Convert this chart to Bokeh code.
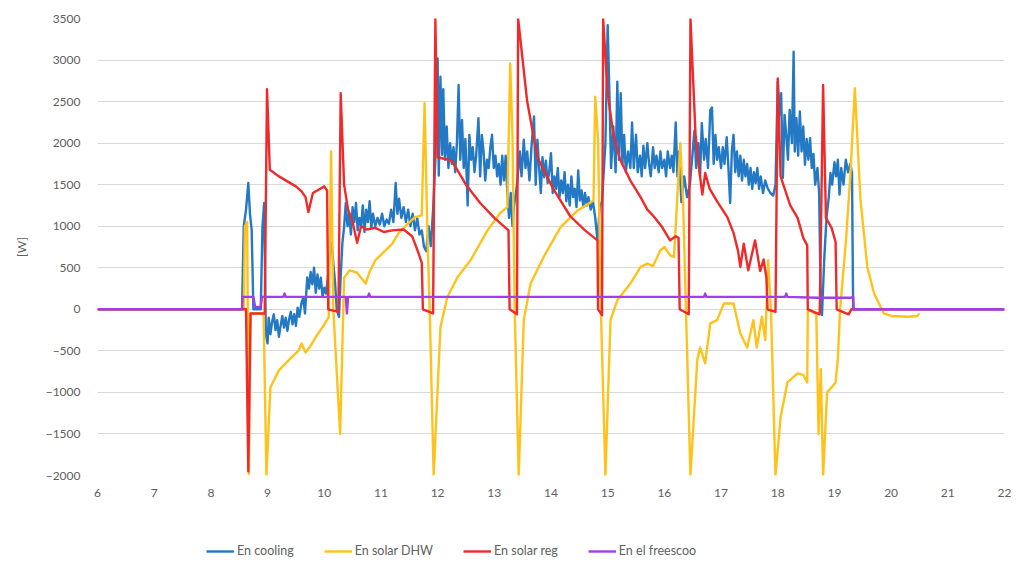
from bokeh.plotting import figure
from bokeh.models import FixedTicker, Legend, LegendItem, ColumnDataSource
from bokeh.layouts import column
from bokeh.embed import file_html
from bokeh.resources import INLINE

# ---- data: (hour, W) ----
en_cooling = [
    (6, 0), (8.55, 0), (8.58, 1000), (8.62, 1200), (8.66, 1520), (8.69, 1150), (8.72, 950), (8.75, 0),
    (8.88, 0), (8.91, 1000), (8.94, 1280), (8.97, -300), (9.0, -410), (9.02, -100), (9.05, -300),
    (9.08, -150), (9.11, -60), (9.14, -250), (9.17, -130), (9.2, -330), (9.23, -200), (9.26, -80),
    (9.29, -220), (9.32, -100), (9.35, -260), (9.38, -120), (9.41, -30), (9.44, -180), (9.47, -60),
    (9.5, -200), (9.53, 20), (9.56, -90), (9.6, 80), (9.63, 145), (9.66, -50), (9.7, 385), (9.73, 250),
    (9.76, 450), (9.79, 300), (9.82, 500), (9.85, 200), (9.88, 420), (9.91, 250), (9.94, 380),
    (9.97, 150), (10.0, 260), (10.03, 190), (10.06, 350), (10.1, 700), (10.13, 800), (10.16, 550),
    (10.19, 330), (10.22, 0), (10.26, -90), (10.29, 400), (10.32, 800), (10.35, 990), (10.38, 1280),
    (10.41, 1000), (10.44, 1150), (10.47, 900), (10.5, 1230), (10.53, 1050), (10.56, 1280),
    (10.59, 950), (10.62, 1100), (10.65, 1000), (10.68, 1250), (10.71, 930), (10.74, 1200),
    (10.77, 1050), (10.8, 1300), (10.83, 980), (10.86, 1150), (10.9, 1000), (10.94, 1100),
    (10.98, 1020), (11.02, 1150), (11.06, 1000), (11.1, 1080), (11.14, 1030), (11.18, 1200),
    (11.22, 1050), (11.26, 1520), (11.29, 1150), (11.32, 1330), (11.36, 1100), (11.4, 1230),
    (11.44, 1050), (11.48, 1200), (11.52, 1000), (11.56, 1150), (11.6, 950), (11.64, 1100),
    (11.68, 900), (11.72, 950), (11.76, 750), (11.8, 700), (11.84, 1000), (11.88, 760),
    (11.92, 1200), (11.96, 1800), (12.0, 3020), (12.02, 1610), (12.05, 2800), (12.08, 1860),
    (12.1, 2650), (12.13, 1800), (12.16, 2200), (12.19, 1700), (12.22, 2000), (12.25, 1750),
    (12.28, 1950), (12.31, 1650), (12.34, 2000), (12.37, 2700), (12.4, 1800), (12.43, 2280),
    (12.46, 1700), (12.49, 2050), (12.53, 1250), (12.56, 2100), (12.59, 1800), (12.62, 1950),
    (12.65, 1650), (12.68, 1850), (12.72, 2300), (12.75, 1600), (12.78, 2100), (12.81, 1900),
    (12.84, 1550), (12.87, 1800), (12.9, 1700), (12.93, 1950), (12.96, 2100), (12.99, 1700),
    (13.02, 1850), (13.05, 1600), (13.08, 1750), (13.11, 1500), (13.14, 1850), (13.17, 1550),
    (13.2, 1850), (13.23, 1400), (13.26, 1100), (13.29, 1400), (13.32, 1000), (13.35, 1250),
    (13.4, 1500), (13.45, 1900), (13.48, 1600), (13.52, 2040), (13.55, 1700), (13.58, 1900),
    (13.62, 1550), (13.66, 2000), (13.7, 2320), (13.73, 1500), (13.76, 2040), (13.79, 1710),
    (13.82, 1400), (13.85, 1830), (13.88, 1590), (13.91, 1790), (13.94, 1520), (13.97, 1670),
    (14.0, 1880), (14.03, 1400), (14.06, 1600), (14.09, 1450), (14.12, 1700), (14.15, 1350),
    (14.18, 1550), (14.21, 1400), (14.24, 1650), (14.27, 1300), (14.3, 1500), (14.33, 1250),
    (14.36, 1600), (14.39, 1350), (14.42, 1450), (14.45, 1230), (14.48, 1670), (14.51, 1310),
    (14.54, 1430), (14.57, 1230), (14.6, 1400), (14.63, 1250), (14.66, 1350), (14.7, 1200),
    (14.74, 1300), (14.78, 1100), (14.82, 830), (14.86, 1230), (14.9, 1300), (14.96, 2000),
    (15.0, 3420), (15.03, 2600), (15.06, 1700), (15.1, 2200), (15.14, 1650), (15.17, 2740),
    (15.2, 1800), (15.23, 2600), (15.26, 1750), (15.29, 2100), (15.32, 1650), (15.36, 1900),
    (15.4, 1700), (15.43, 2250), (15.46, 1700), (15.5, 2100), (15.53, 1650), (15.57, 1850),
    (15.6, 1600), (15.63, 1970), (15.66, 1700), (15.7, 2000), (15.73, 1750), (15.76, 1600),
    (15.8, 1950), (15.83, 1700), (15.86, 1850), (15.9, 1650), (15.93, 1900), (15.96, 1700),
    (16.0, 1800), (16.03, 1600), (16.06, 1900), (16.1, 1700), (16.13, 1850), (16.16, 1650),
    (16.2, 2250), (16.23, 1600), (16.26, 1900), (16.3, 1290), (16.35, 1600), (16.4, 1350),
    (16.45, 1500), (16.5, 1900), (16.53, 2150), (16.56, 1700), (16.6, 2000), (16.63, 1600),
    (16.66, 2240), (16.7, 1800), (16.73, 2050), (16.77, 1700), (16.81, 2400), (16.84, 2430),
    (16.87, 1750), (16.9, 2100), (16.93, 1800), (16.96, 1950), (17.0, 1700), (17.03, 1950),
    (17.06, 1750), (17.1, 2070), (17.13, 1700), (17.16, 1280), (17.19, 1900), (17.22, 2100),
    (17.25, 1650), (17.28, 1900), (17.31, 1600), (17.34, 1850), (17.37, 1550), (17.4, 1800),
    (17.43, 1600), (17.46, 1750), (17.49, 1500), (17.52, 1700), (17.55, 1450), (17.58, 1650),
    (17.61, 1520), (17.64, 1700), (17.67, 1450), (17.7, 1600), (17.74, 1400), (17.78, 1550),
    (17.82, 1460), (17.87, 1400), (17.92, 1370), (17.96, 1500), (18.0, 2740), (18.03, 2340),
    (18.06, 2600), (18.09, 1580), (18.12, 2340), (18.15, 2100), (18.18, 1800), (18.21, 2400),
    (18.25, 2000), (18.28, 3100), (18.3, 1900), (18.33, 2300), (18.36, 1850), (18.39, 2380),
    (18.42, 1900), (18.45, 2200), (18.48, 1740), (18.51, 2050), (18.54, 1800), (18.57, 2060),
    (18.6, 1700), (18.63, 1870), (18.66, 1500), (18.7, 1700), (18.73, 1400), (18.76, 0),
    (18.78, -70), (18.82, 600), (18.86, 1100), (18.9, 1350), (18.93, 1640), (18.96, 1500),
    (19.0, 1770), (19.03, 1600), (19.06, 1800), (19.09, 1380), (19.12, 1700), (19.16, 1500),
    (19.2, 1800), (19.24, 1650), (19.28, 1750), (19.31, 1640), (19.33, 0), (22, 0),
]

en_solar_dhw = [
    (6, 0), (8.58, 0), (8.6, 1000), (8.64, 1050), (8.67, -1980), (8.7, -50), (8.93, -50),
    (8.98, -2000), (9.05, -940), (9.2, -735), (9.37, -615), (9.55, -495), (9.6, -410),
    (9.67, -520), (9.75, -450), (9.85, -335), (9.97, -215), (10.08, -95), (10.12, 1900),
    (10.16, 0), (10.28, -1500), (10.35, 380), (10.45, 470), (10.58, 440), (10.73, 310),
    (10.8, 450), (10.9, 590), (11.08, 710), (11.2, 790), (11.31, 915), (11.43, 1000),
    (11.6, 1110), (11.72, 1130), (11.77, 2480), (11.82, 900), (11.86, 0), (11.93, -2000),
    (12.05, -215), (12.17, 145), (12.35, 385), (12.58, 590), (12.88, 950), (13.1, 1157),
    (13.23, 1230), (13.28, 2960), (13.32, 2100), (13.36, 0), (13.43, -2000), (13.52, -130),
    (13.64, 310), (13.87, 630), (14.17, 990), (14.47, 1190), (14.75, 1310), (14.78, 2560),
    (14.83, 2040), (14.88, 0), (14.96, -2000), (15.05, -130), (15.17, 110), (15.4, 310),
    (15.58, 510), (15.7, 550), (15.8, 520), (15.93, 710), (16.0, 750), (16.1, 650),
    (16.17, 630), (16.28, 2000), (16.33, 1310), (16.38, 0), (16.46, -2000), (16.58, -610),
    (16.63, -460), (16.72, -650), (16.81, -170), (16.93, -130), (17.05, 70), (17.22, 70),
    (17.34, -290), (17.46, -460), (17.57, -130), (17.63, -460), (17.72, -90), (17.78, -370),
    (17.83, 590), (17.88, 0), (17.96, -2000), (18.05, -1300), (18.17, -880), (18.35, -770),
    (18.45, -790), (18.52, -880), (18.53, 0), (18.68, -60), (18.72, -1500), (18.76, -720),
    (18.8, -2000), (18.87, -1000), (18.95, -940), (19.02, -880), (19.06, -600), (19.1, 0),
    (19.2, 800), (19.28, 1600), (19.36, 2660), (19.46, 1310), (19.58, 510), (19.7, 190),
    (19.87, -50), (20.0, -80), (20.3, -90), (20.46, -80), (20.5, -50),
]

en_solar_reg = [
    (6, 0), (8.62, 0), (8.66, -1950), (8.7, -50), (8.95, -50), (8.99, 2650), (9.04, 1680),
    (9.2, 1600), (9.35, 1540), (9.5, 1480), (9.6, 1420), (9.67, 1350), (9.72, 1170),
    (9.8, 1400), (9.9, 1440), (10.0, 1480), (10.05, 1430), (10.07, 0), (10.25, -30),
    (10.29, 2600), (10.35, 1500), (10.42, 1200), (10.5, 1050), (10.58, 800), (10.65, 1000),
    (10.75, 960), (10.9, 980), (11.05, 930), (11.2, 950), (11.4, 960), (11.55, 880),
    (11.65, 700), (11.72, 560), (11.74, 0), (11.92, -50), (11.96, 3500), (12.0, 1830),
    (12.25, 1790), (12.5, 1500), (12.75, 1280), (13.0, 1100), (13.25, 950), (13.27, 0),
    (13.4, -60), (13.42, 3500), (13.58, 2500), (13.76, 1830), (14.04, 1450), (14.34, 1120),
    (14.6, 950), (14.82, 830), (14.83, 0), (14.9, -70), (14.92, 3500), (15.0, 2600),
    (15.1, 2100), (15.22, 1800), (15.4, 1550), (15.58, 1350), (15.7, 1200), (15.81, 1120),
    (15.95, 1000), (16.1, 830), (16.2, 880), (16.25, 860), (16.27, 0), (16.43, -60),
    (16.46, 3500), (16.55, 2100), (16.62, 1650), (16.67, 1380), (16.72, 1640), (16.8, 1450),
    (16.93, 1300), (17.11, 1110), (17.22, 920), (17.3, 700), (17.34, 510), (17.4, 790),
    (17.48, 470), (17.6, 830), (17.69, 460), (17.75, 600), (17.8, 380), (17.82, 0),
    (17.96, -30), (18.0, 2780), (18.05, 1600), (18.22, 1250), (18.35, 1100), (18.45, 860),
    (18.52, 770), (18.53, 0), (18.74, -60), (18.8, 2700), (18.85, 1100), (18.95, 980),
    (19.02, 810), (19.04, 0), (19.25, -60), (19.3, 0), (22, 0),
]

en_el_freescoo = [
    (6, 0), (8.55, 0), (8.56, 150), (8.75, 150), (8.78, 30), (8.88, 30), (8.9, 150),
    (9.28, 150), (9.3, 190), (9.32, 150), (10.38, 150), (10.4, -50), (10.42, 150),
    (10.77, 150), (10.79, 190), (10.81, 150), (16.7, 150), (16.72, 190), (16.74, 150),
    (18.13, 150), (18.15, 190), (18.17, 150), (18.7, 140), (19.3, 140), (19.33, 150),
    (19.34, 0), (22, 0),
]

series_names = ["En cooling", "En solar DHW", "En solar reg", "En el freescoo"]
series_data = [en_cooling, en_solar_dhw, en_solar_reg, en_el_freescoo]
series_colors = ["#2479C4", "#FFC21A", "#F02A2A", "#A23EE8"]

x_ticks = list(range(6, 23))
y_ticks = [-2000, -1500, -1000, -500, 0, 500, 1000, 1500, 2000, 2500, 3000, 3500]

FONT = "Lato"
GREY = "#606060"

# ---------- main chart ----------
p = figure(
    width=1011, height=515,
    x_range=(6, 22), y_range=(-2000, 3500),
    output_backend="svg", toolbar_location=None,
    min_border_left=97, min_border_right=7, min_border_top=18, min_border_bottom=40,
    background_fill_color="white", border_fill_color="white",
)
p.outline_line_color = None

for name, data, col in zip(series_names, series_data, series_colors):
    src = ColumnDataSource(dict(x=[d[0] for d in data], y=[d[1] for d in data]))
    p.line("x", "y", source=src, line_color=col, line_width=2.4, line_join="round")

p.xaxis.ticker = FixedTicker(ticks=x_ticks)
p.yaxis.ticker = FixedTicker(ticks=y_ticks)
p.xgrid.grid_line_color = None
p.ygrid.grid_line_color = "#D9D9D9"
p.ygrid.grid_line_width = 1

for ax in (p.xaxis[0], p.yaxis[0]):
    ax.axis_line_color = None
    ax.major_tick_line_color = None
    ax.minor_tick_line_color = None
    ax.major_label_text_font = FONT
    ax.major_label_text_font_size = "12px"
    ax.major_label_text_color = GREY

p.xaxis.major_label_standoff = 7
p.yaxis.major_label_standoff = 11
p.yaxis.axis_label = "[W]"
p.yaxis.axis_label_text_font = FONT
p.yaxis.axis_label_text_font_size = "12px"
p.yaxis.axis_label_text_font_style = "normal"
p.yaxis.axis_label_text_color = GREY
p.yaxis.axis_label_standoff = 14

# ---------- legend strip ----------
pl = figure(
    width=1011, height=45, x_range=(0, 1), y_range=(0, 1),
    output_backend="svg", toolbar_location=None,
    min_border=0, min_border_left=0, min_border_right=0, min_border_top=0, min_border_bottom=0,
    x_axis_type=None, y_axis_type=None,
    background_fill_color="white", border_fill_color="white",
)
pl.outline_line_color = None
pl.xgrid.visible = False
pl.ygrid.visible = False

items = []
for name, col in zip(series_names, series_colors):
    # off-range stub so that only the legend swatch is drawn
    r = pl.line(x=[5, 6], y=[5, 6], line_color=col, line_width=2.4)
    items.append(LegendItem(label=name, renderers=[r]))

legend = Legend(
    items=items, orientation="horizontal", location=(109, 2),
    label_text_font=FONT, label_text_font_size="12.5px", label_text_color=GREY,
    glyph_width=28, glyph_height=14, label_height=14, spacing=30, label_standoff=3,
    border_line_color=None, background_fill_alpha=0, margin=0, padding=3,
)
pl.add_layout(legend, "center")

layout = column(p, pl, spacing=0)
open("out.html", "w").write(file_html(layout, INLINE))
